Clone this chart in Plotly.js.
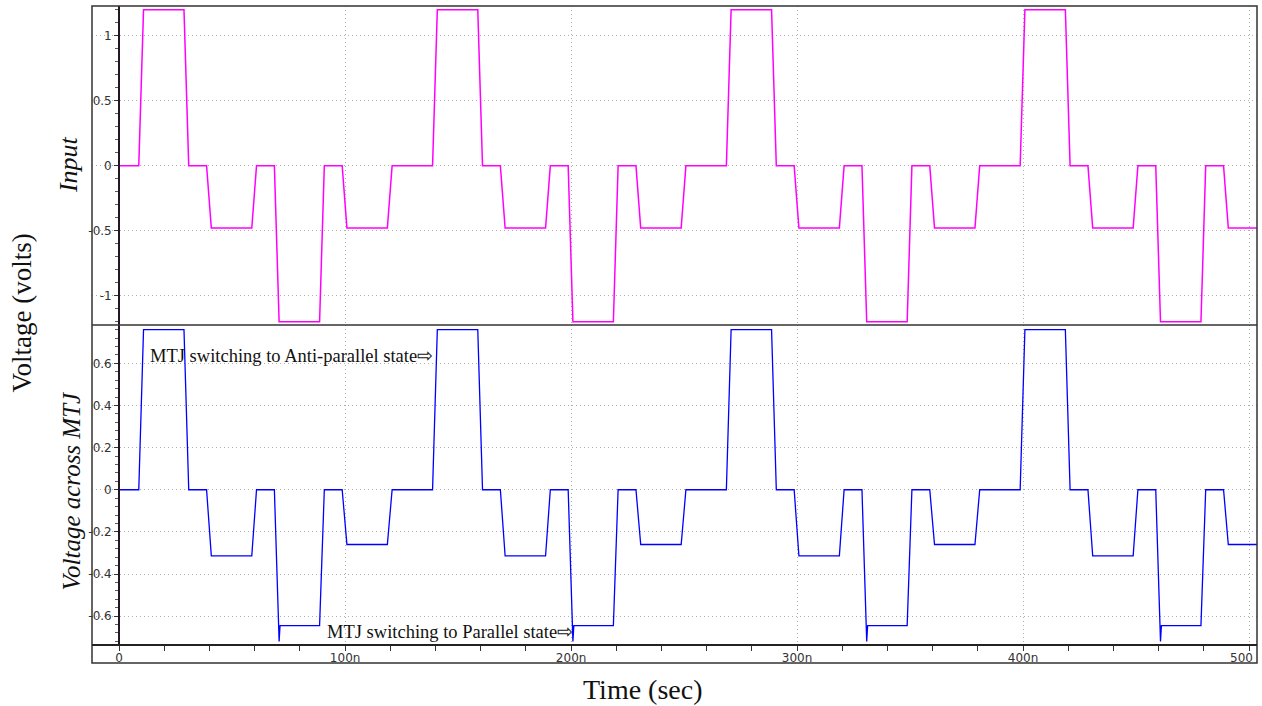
<!DOCTYPE html>
<html>
<head>
<meta charset="utf-8">
<script src="https://cdn.plot.ly/plotly-3.0.1.min.js"></script>
<style>html,body{margin:0;padding:0;background:#fff;}#chart{width:1262px;height:706px;}</style>
</head>
<body>
<div id="chart"></div>
<script>
// Time in ns
const tInput = [0,
  8.7, 10.8, 28.7, 30.8, 38.7, 40.8, 58.7, 60.8, 68.7, 70.8, 88.7, 90.8, 98.7, 100.8, 118.7, 120.8,
  138.7, 140.8, 158.7, 160.8, 168.7, 170.8, 188.7, 190.8, 198.7, 200.8, 218.7, 220.8, 228.7, 230.8, 248.7, 250.8,
  268.7, 270.8, 288.7, 290.8, 298.7, 300.8, 318.7, 320.8, 328.7, 330.8, 348.7, 350.8, 358.7, 360.8, 378.7, 380.8,
  398.7, 400.8, 418.7, 420.8, 428.7, 430.8, 448.7, 450.8, 458.7, 460.8, 478.7, 480.8, 488.7, 490.8, 505];
const vInput = [0,
  0, 1.2, 1.2, 0, 0, -0.48, -0.48, 0, 0, -1.2, -1.2, 0, 0, -0.48, -0.48, 0,
  0, 1.2, 1.2, 0, 0, -0.48, -0.48, 0, 0, -1.2, -1.2, 0, 0, -0.48, -0.48, 0,
  0, 1.2, 1.2, 0, 0, -0.48, -0.48, 0, 0, -1.2, -1.2, 0, 0, -0.48, -0.48, 0,
  0, 1.2, 1.2, 0, 0, -0.48, -0.48, 0, 0, -1.2, -1.2, 0, 0, -0.48, -0.48];

const tMTJ = [0,
  8.7, 10.8, 28.7, 30.8, 38.7, 40.8, 58.7, 60.8, 68.7, 70.8, 71.2, 88.7, 90.8, 98.7, 100.8, 118.7, 120.8,
  138.7, 140.8, 158.7, 160.8, 168.7, 170.8, 188.7, 190.8, 198.7, 200.8, 201.2, 218.7, 220.8, 228.7, 230.8, 248.7, 250.8,
  268.7, 270.8, 288.7, 290.8, 298.7, 300.8, 318.7, 320.8, 328.7, 330.8, 331.2, 348.7, 350.8, 358.7, 360.8, 378.7, 380.8,
  398.7, 400.8, 418.7, 420.8, 428.7, 430.8, 448.7, 450.8, 458.7, 460.8, 461.2, 478.7, 480.8, 488.7, 490.8, 505];
const vMTJ = [0,
  0, 0.76, 0.76, 0, 0, -0.314, -0.314, 0, 0, -0.72, -0.645, -0.645, 0, 0, -0.26, -0.26, 0,
  0, 0.76, 0.76, 0, 0, -0.314, -0.314, 0, 0, -0.72, -0.645, -0.645, 0, 0, -0.26, -0.26, 0,
  0, 0.76, 0.76, 0, 0, -0.314, -0.314, 0, 0, -0.72, -0.645, -0.645, 0, 0, -0.26, -0.26, 0,
  0, 0.76, 0.76, 0, 0, -0.314, -0.314, 0, 0, -0.72, -0.645, -0.645, 0, 0, -0.26, -0.26];

const xTickVals = [0, 100, 200, 300, 400, 500];
const xTickText = ['0', '100n', '200n', '300n', '400n', '500'];
const yTopTickVals = [-1, -0.5, 0, 0.5, 1];
const yTopTickText = ['-1', '-0.5', '0', '0.5', '1'];
const yBotTickVals = [-0.6, -0.4, -0.2, 0, 0.2, 0.4, 0.6];
const yBotTickText = ['-0.6', '-0.4', '-0.2', '0', '0.2', '0.4', '0.6'];

const xRange = [-12, 503.5];
const yPos = (0 - xRange[0]) / (xRange[1] - xRange[0]);
const splitY = 338 / 657;
const axisY = 18 / 657;

const tickFont = {family: 'DejaVu Sans', size: 12, color: '#333'};
const grid = {showgrid: true, gridcolor: '#b0b0b0', griddash: '1px,3px', gridwidth: 1, zeroline: false};

// last x tick label is cut by the frame in the original: drawn right-aligned at the frame edge
const xTickTextShown = xTickText.map((s, i) => i === xTickText.length - 1 ? '' : s);

const traces = [
  {x: tInput, y: vInput, xaxis: 'x', yaxis: 'y', mode: 'lines', line: {color: '#ff00ff', width: 1.5}, hoverinfo: 'skip'},
  {x: tMTJ, y: vMTJ, xaxis: 'x', yaxis: 'y2', mode: 'lines', line: {color: '#0000ff', width: 1.3}, hoverinfo: 'skip'}
];

const serif = 'Liberation Serif, Times New Roman, serif';

const layout = {
  width: 1262, height: 706,
  margin: {l: 92, r: 5, t: 6, b: 43, pad: 0},
  paper_bgcolor: '#fff', plot_bgcolor: '#fff',
  showlegend: false,
  xaxis: Object.assign({}, grid, {
    domain: [0, 1], range: xRange, anchor: 'y2',
    tickmode: 'array', tickvals: xTickVals, ticktext: xTickTextShown,
    ticks: 'outside', ticklen: 5, tickwidth: 1, tickcolor: '#333', ticklabelstandoff: -3,
    minor: {tickmode: 'linear', tick0: 0, dtick: 20, ticks: 'outside', ticklen: 5, tickcolor: '#333', showgrid: false},
    tickfont: tickFont, showline: false
  }),
  yaxis: Object.assign({}, grid, {
    domain: [splitY, 1], range: [-1.225, 1.228], anchor: 'free', position: yPos,
    tickmode: 'array', tickvals: yTopTickVals, ticktext: yTopTickText,
    ticks: 'outside', ticklen: 4, tickwidth: 1, tickcolor: '#333',
    minor: {tickmode: 'linear', tick0: 0, dtick: 0.1, ticks: 'outside', ticklen: 3, tickcolor: '#665566', showgrid: false},
    tickfont: tickFont, showline: true, linecolor: '#221822', linewidth: 2
  }),
  yaxis2: Object.assign({}, grid, {
    domain: [axisY, splitY], range: [-0.737, 0.782], anchor: 'free', position: yPos,
    tickmode: 'array', tickvals: yBotTickVals, ticktext: yBotTickText,
    ticks: 'outside', ticklen: 4, tickwidth: 1, tickcolor: '#333',
    minor: {tickmode: 'linear', tick0: 0, dtick: 0.04, ticks: 'outside', ticklen: 3, tickcolor: '#665566', showgrid: false},
    tickfont: tickFont, showline: true, linecolor: '#221822', linewidth: 2
  }),
  shapes: [
    {type: 'rect', xref: 'paper', yref: 'paper', x0: 0, x1: 1, y0: 0, y1: 1, line: {color: '#333', width: 1.5}},
    {type: 'line', xref: 'paper', yref: 'paper', x0: 0, x1: 1, y0: splitY, y1: splitY, line: {color: '#333', width: 1.5}},
    {type: 'line', xref: 'paper', yref: 'paper', x0: 0, x1: 1, y0: axisY, y1: axisY, line: {color: '#222', width: 2}}
  ],
  annotations: [
    {xref: 'paper', yref: 'paper', x: 0.9985, y: axisY * 0.28, text: xTickText[xTickText.length - 1], showarrow: false,
     xanchor: 'right', yanchor: 'middle', font: tickFont},
    {xref: 'paper', yref: 'paper', x: -0.0197, y: 0.758, text: 'Input', showarrow: false, textangle: -90,
     xanchor: 'center', yanchor: 'middle', font: {family: serif, size: 26, style: 'italic', color: '#111'}},
    {xref: 'paper', yref: 'paper', x: -0.0176, y: 0.2633, text: 'Voltage across MTJ', showarrow: false, textangle: -90,
     xanchor: 'center', yanchor: 'middle', font: {family: serif, size: 25, style: 'italic', color: '#111'}},
    {xref: 'paper', yref: 'paper', x: -0.0597, y: 0.5327, text: 'Voltage (volts)', showarrow: false, textangle: -90,
     xanchor: 'center', yanchor: 'middle', font: {family: serif, size: 27, color: '#111'}},
    {xref: 'paper', yref: 'paper', x: 0.473, y: -0.0396, text: 'Time (sec)', showarrow: false,
     xanchor: 'center', yanchor: 'middle', font: {family: serif, size: 28, color: '#111'}},
    {xref: 'x', yref: 'y2', x: 139.8, y: 0.635, text: 'MTJ switching to Anti-parallel state\u21E8', showarrow: false,
     xanchor: 'right', yanchor: 'middle', font: {family: serif, size: 18.5, color: '#111'}},
    {xref: 'x', yref: 'y2', x: 201.8, y: -0.675, text: 'MTJ switching to Parallel state\u21E8', showarrow: false,
     xanchor: 'right', yanchor: 'middle', font: {family: serif, size: 18.5, color: '#111'}}
  ]
};

Plotly.newPlot('chart', traces, layout, {staticPlot: true, displayModeBar: false});
</script>
</body>
</html>
